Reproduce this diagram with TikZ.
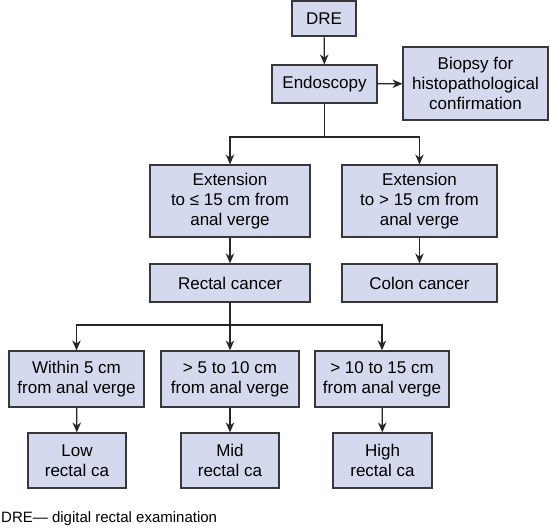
\documentclass[tikz,border=0pt]{standalone}
\usepackage{fontspec}
\setmainfont{Liberation Sans}
\usetikzlibrary{arrows.meta}
\definecolor{boxfill}{RGB}{212,217,238}
\definecolor{boxline}{RGB}{55,55,60}
\begin{document}
\begin{tikzpicture}[x=1pt,y=-1pt,
  box/.style={draw=boxline,fill=boxfill,line width=1.2pt,align=center,inner sep=2pt,
    font=\fontsize{17}{20}\selectfont},
  conn/.style={draw=black!85,line width=1.2pt},
  arr/.style={conn,-{Stealth[length=10pt,width=8.5pt]}}]
\useasboundingbox (0,0) rectangle (550,528);
\node[box,minimum width=64pt,minimum height=35pt] (dre) at (324,18.5) {DRE};
\node[box,minimum width=105pt,minimum height=38pt] (endo) at (324.5,84) {Endoscopy};
\node[box,minimum width=145pt,minimum height=73pt] (bio) at (475.5,83.5) {Biopsy for\\histopathological\\confirmation};
\node[box,minimum width=160pt,minimum height=72pt] (extl) at (230,201) {Extension\\to ≤ 15 cm from\\anal verge};
\node[box,minimum width=155pt,minimum height=72pt] (extr) at (419.5,201) {Extension\\to > 15 cm from\\anal verge};
\node[box,minimum width=160pt,minimum height=38pt] (rect) at (230,283) {Rectal cancer};
\node[box,minimum width=155pt,minimum height=38pt] (colon) at (419.5,283) {Colon cancer};
\node[box,minimum width=135pt,minimum height=56pt] (w5) at (76.5,379) {Within 5 cm\\from anal verge};
\node[box,minimum width=138pt,minimum height=56pt] (m10) at (230,379) {> 5 to 10 cm\\from anal verge};
\node[box,minimum width=134pt,minimum height=56pt] (h15) at (382,379) {> 10 to 15 cm\\from anal verge};
\node[box,minimum width=98pt,minimum height=55pt] (low) at (77,460.5) {Low\\rectal ca};
\node[box,minimum width=98pt,minimum height=55pt] (mid) at (230,460.5) {Mid\\rectal ca};
\node[box,minimum width=99pt,minimum height=55pt] (high) at (382.5,460.5) {High\\rectal ca};
\node[anchor=west,inner sep=0pt,font=\fontsize{15}{18}\selectfont] (cap) at (1,519) {DRE--- digital rectal examination};
\coordinate (j1) at (324.5,137);
\coordinate (j2) at (230,325);
\draw[arr] (dre) -- (endo);
\draw[arr] (endo) -- (bio);
\draw[conn] (endo) -- (j1);
\draw[arr] (j1) -| (extl);
\draw[arr] (j1) -| (extr);
\draw[arr] (extl) -- (rect);
\draw[arr] (extr) -- (colon);
\draw[conn] (rect) -- (j2);
\draw[arr] (j2) -| (w5);
\draw[arr] (j2) -- (m10);
\draw[arr] (j2) -| (h15);
\draw[arr] (w5) -- (low);
\draw[arr] (m10) -- (mid);
\draw[arr] (h15) -- (high);
\end{tikzpicture}
\end{document}
